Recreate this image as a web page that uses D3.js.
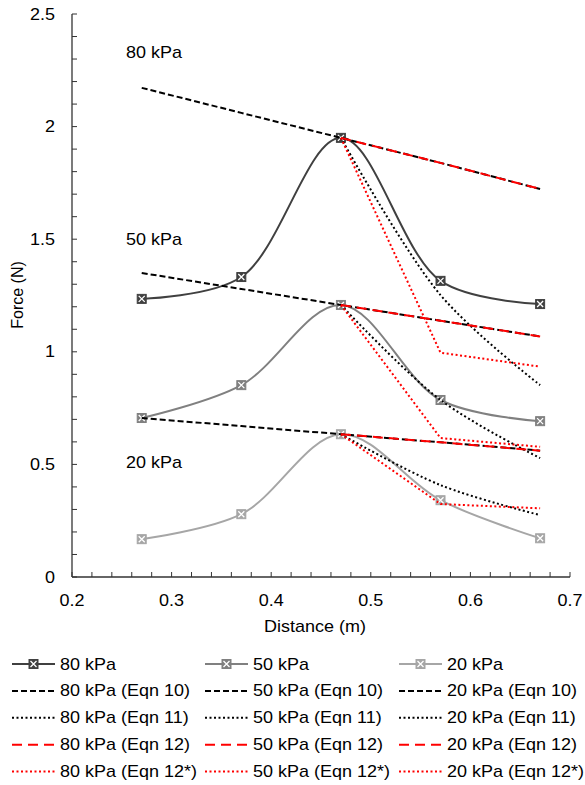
<!DOCTYPE html>
<html>
<head>
<meta charset="utf-8">
<script src="https://cdn.jsdelivr.net/npm/d3@7"></script>
<style>
  body { margin: 0; background: #fff; }
  svg text { font-family: "Liberation Sans", Arial, sans-serif; fill: #000; font-size: 16px; }
</style>
</head>
<body>
<div id="chart"></div>
<script>
// distances (m)
var distance = [0.27, 0.37, 0.47, 0.57, 0.67];
var distEqn = [0.47, 0.57, 0.67];

// measured force (N)
var force80 = [1.235, 1.332, 1.950, 1.315, 1.212];
var force50 = [0.706, 0.852, 1.208, 0.786, 0.692];
var force20 = [0.168, 0.279, 0.634, 0.341, 0.172];

// Eqn 10 (over all distances)
var eqn10_80 = [2.172, 2.061, 1.950, 1.839, 1.723];
var eqn10_50 = [1.350, 1.279, 1.208, 1.138, 1.068];
var eqn10_20 = [0.706, 0.670, 0.634, 0.598, 0.561];

// Eqn 11, 12, 12* (from peak onwards)
var eqn11_80 = [1.950, 1.252, 0.852];
var eqn11_50 = [1.208, 0.786, 0.528];
var eqn11_20 = [0.634, 0.408, 0.275];

var eqn12_80 = [1.950, 1.839, 1.723];
var eqn12_50 = [1.208, 1.138, 1.068];
var eqn12_20 = [0.634, 0.598, 0.561];

var eqn12s_80 = [1.950, 0.996, 0.934];
var eqn12s_50 = [1.208, 0.617, 0.578];
var eqn12s_20 = [0.634, 0.324, 0.305];

var xTicks = [0.2, 0.3, 0.4, 0.5, 0.6, 0.7];
var yTicks = [0, 0.5, 1, 1.5, 2, 2.5];

var width = 585, height = 785;
var svg = d3.select("#chart").append("svg")
  .attr("width", width)
  .attr("height", height);

var x = d3.scaleLinear().domain([0.2, 0.7]).range([72, 570]);
var y = d3.scaleLinear().domain([0, 2.5]).range([577, 14]);

var grey80 = "#404040", grey50 = "#808080", grey20 = "#a6a6a6", red = "#ff0000";
var stretch = 1.125; // picture is stretched sideways, text too

function pts(xs, ys) {
  return xs.map(function(d, i) { return [d, ys[i]]; });
}

// text drawn wider than tall like the reference
function label(g, tx, ty, str, anchor) {
  return g.append("text")
    .attr("transform", "translate(" + tx + "," + ty + ") scale(" + stretch + ",1)")
    .attr("text-anchor", anchor || "start")
    .text(str);
}

// series in excel order
var series = [
  { name: "80 kPa", xs: distance, ys: force80, color: grey80, dash: null, smooth: true, marker: true },
  { name: "50 kPa", xs: distance, ys: force50, color: grey50, dash: null, smooth: true, marker: true },
  { name: "20 kPa", xs: distance, ys: force20, color: grey20, dash: null, smooth: true, marker: true },
  { name: "80 kPa (Eqn 10)", xs: distance, ys: eqn10_80, color: "#000", dash: "6,3" },
  { name: "50 kPa (Eqn 10)", xs: distance, ys: eqn10_50, color: "#000", dash: "6,3" },
  { name: "20 kPa (Eqn 10)", xs: distance, ys: eqn10_20, color: "#000", dash: "6,3" },
  { name: "80 kPa (Eqn 11)", xs: distEqn, ys: eqn11_80, color: "#000", dash: "2,2.5", smooth: true },
  { name: "50 kPa (Eqn 11)", xs: distEqn, ys: eqn11_50, color: "#000", dash: "2,2.5", smooth: true },
  { name: "20 kPa (Eqn 11)", xs: distEqn, ys: eqn11_20, color: "#000", dash: "2,2.5", smooth: true },
  { name: "80 kPa (Eqn 12)", xs: distEqn, ys: eqn12_80, color: red, dash: "10,6" },
  { name: "50 kPa (Eqn 12)", xs: distEqn, ys: eqn12_50, color: red, dash: "10,6" },
  { name: "20 kPa (Eqn 12)", xs: distEqn, ys: eqn12_20, color: red, dash: "10,6" },
  { name: "80 kPa (Eqn 12*)", xs: distEqn, ys: eqn12s_80, color: red, dash: "2,2.5" },
  { name: "50 kPa (Eqn 12*)", xs: distEqn, ys: eqn12s_50, color: red, dash: "2,2.5" },
  { name: "20 kPa (Eqn 12*)", xs: distEqn, ys: eqn12s_20, color: red, dash: "2,2.5" }
];

// axes
var xAxis = svg.append("g").attr("transform", "translate(0," + y(0) + ")");
xAxis.append("line").attr("x1", x(0.2)).attr("x2", x(0.7)).attr("stroke", "#333").attr("stroke-width", 1.3);
xAxis.selectAll(".minor").data(d3.range(0, 26).map(function(i) { return 0.2 + i * 0.02; }))
  .enter().append("line")
  .attr("x1", function(d) { return x(d); }).attr("x2", function(d) { return x(d); })
  .attr("y1", 0).attr("y2", -5)
  .attr("stroke", "#333");
xTicks.forEach(function(d) { label(xAxis, x(d), 29, d3.format(".1f")(d), "middle"); });

var yAxis = svg.append("g").attr("transform", "translate(" + x(0.2) + ",0)");
yAxis.append("line").attr("y1", y(0)).attr("y2", y(2.5)).attr("stroke", "#333").attr("stroke-width", 1.3);
yAxis.selectAll(".minor").data(d3.range(0, 26).map(function(i) { return i * 0.1; }))
  .enter().append("line")
  .attr("y1", function(d) { return y(d); }).attr("y2", function(d) { return y(d); })
  .attr("x1", 0).attr("x2", 5)
  .attr("stroke", "#333");
yTicks.forEach(function(d) { label(yAxis, -17, y(d) + 5.5, String(d), "end"); });

label(svg, 315, 632, "Distance (m)", "middle");
svg.append("text").attr("transform", "translate(23,295) rotate(-90)").attr("text-anchor", "middle")
  .text("Force (N)");

// pressure labels
[["80 kPa", 2.33], ["50 kPa", 1.50], ["20 kPa", 0.51]].forEach(function(l) {
  label(svg, 126, y(l[1]) + 5.5, l[0]);
});

var plot = svg.append("g");

function drawMarker(g, cx, cy, color) {
  var s = 4.5;
  g.append("rect").attr("x", cx - s).attr("y", cy - s).attr("width", 2 * s).attr("height", 2 * s)
    .attr("fill", color).attr("stroke", color).attr("stroke-width", 1);
  g.append("path")
    .attr("d", "M" + (cx - s + 1.5) + "," + (cy - s + 1.5) + "L" + (cx + s - 1.5) + "," + (cy + s - 1.5) +
      "M" + (cx + s - 1.5) + "," + (cy - s + 1.5) + "L" + (cx - s + 1.5) + "," + (cy + s - 1.5))
    .attr("stroke", "#fff").attr("stroke-width", 1.3);
}

series.forEach(function(s) {
  var line = d3.line()
    .x(function(d) { return x(d[0]); })
    .y(function(d) { return y(d[1]); })
    .curve(s.smooth ? d3.curveCatmullRom.alpha(0.5) : d3.curveLinear);
  plot.append("path")
    .datum(pts(s.xs, s.ys))
    .attr("fill", "none")
    .attr("stroke", s.color)
    .attr("stroke-width", 2)
    .attr("stroke-dasharray", s.dash)
    .attr("d", line);
  if (s.marker) {
    pts(s.xs, s.ys).forEach(function(p) { drawMarker(plot, x(p[0]), y(p[1]), s.color); });
  }
});

// legend: filled row by row, 3 columns
var legX = [12, 205, 399];
var legend = svg.append("g");
series.forEach(function(s, i) {
  var col = i % 3, row = Math.floor(i / 3);
  var lx = legX[col], ly = 664 + row * 26.9;
  legend.append("line").attr("x1", lx).attr("x2", lx + 43).attr("y1", ly).attr("y2", ly)
    .attr("stroke", s.color).attr("stroke-width", 2).attr("stroke-dasharray", s.dash);
  if (s.marker) drawMarker(legend, lx + 21.5, ly, s.color);
  label(legend, lx + 48, ly + 5.5, s.name);
});
</script>
</body>
</html>
